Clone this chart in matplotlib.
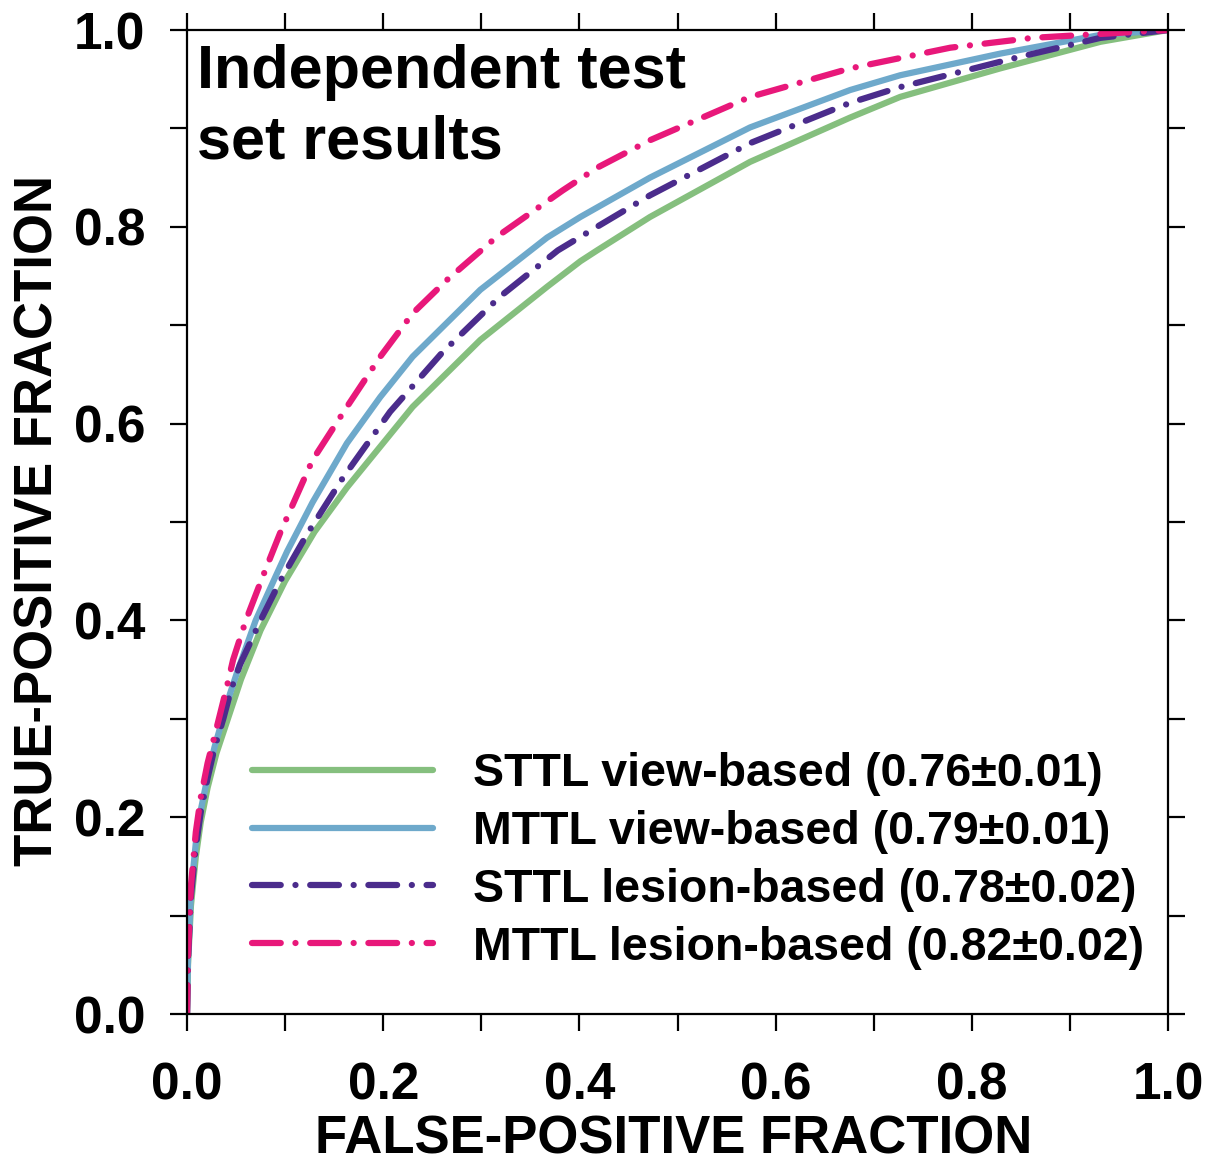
import matplotlib
matplotlib.use("Agg")
import matplotlib.pyplot as plt

# values (FPF, TPF)
sttl_view_fpf = [0, 0.001, 0.004, 0.009, 0.014, 0.021, 0.03, 0.04, 0.055, 0.075, 0.10, 0.13,
                 0.163, 0.23, 0.299, 0.367, 0.401, 0.418, 0.472, 0.574, 0.676, 0.727, 0.829,
                 0.931, 1.0]
sttl_view_tpf = [0, 0.05, 0.11, 0.16, 0.195, 0.23, 0.265, 0.295, 0.34, 0.39, 0.44, 0.49,
                 0.535, 0.617, 0.685, 0.739, 0.765, 0.776, 0.81, 0.866, 0.911, 0.932, 0.961,
                 0.988, 1.0]

mttl_view_fpf = [0, 0.001, 0.004, 0.009, 0.014, 0.021, 0.028, 0.037, 0.044, 0.052, 0.07, 0.09,
                 0.102, 0.128, 0.163, 0.197, 0.23, 0.299, 0.367, 0.401, 0.472, 0.574, 0.676,
                 0.727, 0.778, 0.829, 0.931, 1.0]
mttl_view_tpf = [0, 0.055, 0.123, 0.174, 0.207, 0.241, 0.271, 0.302, 0.326, 0.35, 0.40, 0.444,
                 0.47, 0.52, 0.58, 0.627, 0.668, 0.736, 0.789, 0.81, 0.85, 0.901, 0.939,
                 0.954, 0.965, 0.976, 0.995, 1.0]

sttl_lesion_fpf = [0, 0.001, 0.004, 0.009, 0.014, 0.021, 0.028, 0.037, 0.045, 0.054, 0.075, 0.095,
                   0.122, 0.159, 0.207, 0.26, 0.319, 0.378, 0.418, 0.472, 0.574, 0.676, 0.727,
                   0.846, 0.931, 1.0]
sttl_lesion_tpf = [0, 0.055, 0.12, 0.17, 0.205, 0.24, 0.27, 0.30, 0.33, 0.355, 0.40, 0.44,
                   0.487, 0.545, 0.612, 0.672, 0.729, 0.776, 0.80, 0.832, 0.885, 0.926, 0.942,
                   0.972, 0.992, 1.0]

mttl_lesion_fpf = [0, 0.001, 0.004, 0.009, 0.014, 0.021, 0.03, 0.04, 0.047, 0.06, 0.077, 0.095,
                   0.128, 0.163, 0.197, 0.23, 0.265, 0.316, 0.383, 0.418, 0.472, 0.574, 0.676,
                   0.778, 0.862, 1.0]
mttl_lesion_tpf = [0, 0.06, 0.13, 0.185, 0.22, 0.255, 0.29, 0.33, 0.36, 0.40, 0.444, 0.489,
                   0.563, 0.617, 0.668, 0.712, 0.746, 0.79, 0.837, 0.86, 0.888, 0.932, 0.961,
                   0.982, 0.992, 1.0]

labels = ["STTL view-based (0.76\u00b10.01)",
          "MTTL view-based (0.79\u00b10.01)",
          "STTL lesion-based (0.78\u00b10.02)",
          "MTTL lesion-based (0.82\u00b10.02)"]
colors = ["#85bf7e", "#6ea9cb", "#4b2c8c", "#e8187a"]

tick_vals = [0.0, 0.2, 0.4, 0.6, 0.8, 1.0]
tick_labels = ["0.0", "0.2", "0.4", "0.6", "0.8", "1.0"]

plt.rcParams['font.family'] = ['Liberation Sans', 'DejaVu Sans']
plt.rcParams['font.weight'] = 'bold'

fig = plt.figure(figsize=(12.2, 11.71), dpi=100)
ax = fig.add_axes([187 / 1220, 1 - 1014 / 1171, 981 / 1220, 984 / 1171])

lw = 4.5
dashdot = (0, (4.6, 2.35, 0.01, 2.35))
ax.plot(sttl_view_fpf, sttl_view_tpf, color=colors[0], lw=lw, solid_capstyle='round',
        solid_joinstyle='round', label=labels[0])
ax.plot(mttl_view_fpf, mttl_view_tpf, color=colors[1], lw=lw, solid_capstyle='round',
        solid_joinstyle='round', label=labels[1])
ax.plot(sttl_lesion_fpf, sttl_lesion_tpf, color=colors[2], lw=lw, linestyle=dashdot,
        dash_capstyle='round', dash_joinstyle='round', label=labels[2])
ax.plot(mttl_lesion_fpf, mttl_lesion_tpf, color=colors[3], lw=lw, linestyle=dashdot,
        dash_capstyle='round', dash_joinstyle='round', label=labels[3])

ax.set_xlim(0, 1)
ax.set_ylim(0, 1)
ax.set_xticks(tick_vals)
ax.set_xticklabels(tick_labels)
ax.set_yticks(tick_vals)
ax.set_yticklabels(tick_labels)
ax.set_xticks([0.1, 0.3, 0.5, 0.7, 0.9], minor=True)
ax.set_yticks([0.1, 0.3, 0.5, 0.7, 0.9], minor=True)
ax.tick_params(which='both', direction='out', length=12, width=1.6, top=True, right=True)
ax.tick_params(axis='x', labelsize=37, pad=22)
ax.tick_params(axis='y', labelsize=37, pad=18)
for s in ax.spines.values():
    s.set_linewidth(1.6)

ax.set_xlabel("FALSE-POSITIVE FRACTION", fontsize=38, fontweight='bold')
ax.set_ylabel("TRUE-POSITIVE FRACTION", fontsize=38, fontweight='bold')
ax.xaxis.set_label_coords(0.496, -0.102)
ax.yaxis.set_label_coords(-0.126, 0.502)

ax.text(0.010, 0.986, "Independent test\nset results", transform=ax.transAxes, fontsize=44,
        fontweight='bold', va='top', ha='left', linespacing=1.31)

ax.legend(loc='lower left', bbox_to_anchor=(0.066, 0.045), frameon=False, fontsize=33.5,
          handlelength=3.9, handletextpad=0.86, labelspacing=0.3, borderpad=0, borderaxespad=0)

fig.savefig("out.png", dpi=100)
